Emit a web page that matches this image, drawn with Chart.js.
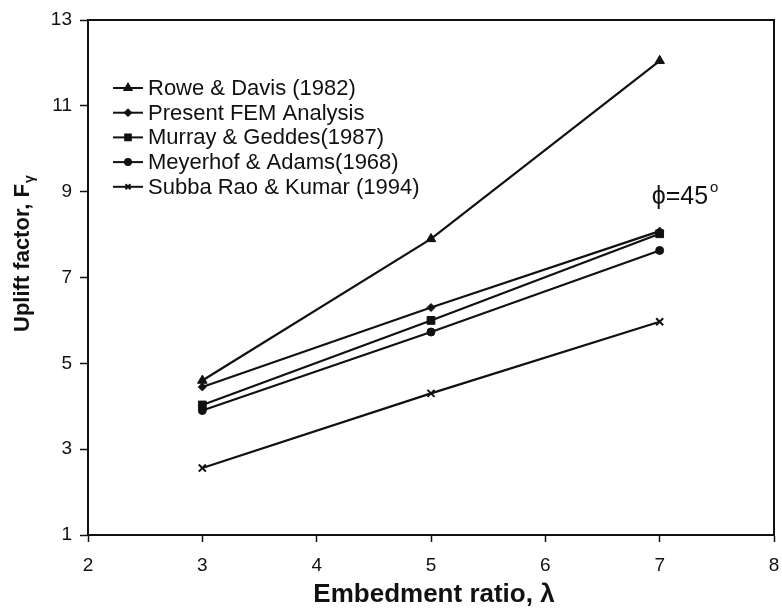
<!DOCTYPE html>
<html>
<head>
<meta charset="utf-8">
<title>Uplift factor vs embedment ratio</title>
<script src="https://cdn.jsdelivr.net/npm/chart.js@4/dist/chart.umd.min.js"></script>
<style>
  html, body { margin: 0; padding: 0; background: #fff; }
  #wrap { width: 782px; height: 610px; position: relative; }
</style>
</head>
<body>
<div id="wrap"><canvas id="upliftChart" width="782" height="610"></canvas></div>
<script>
const FONT = '"Liberation Sans", Arial, Helvetica, sans-serif';
const INK = '#111';

// embedment ratio (lambda) and uplift factor for each source
const embedRatio = [3, 5, 7];
const roweDavis = [4.6, 7.9, 12.05];
const presentFem = [4.45, 6.3, 8.08];
const murrayGeddes = [4.03, 6.0, 8.02];
const meyerhofAdams = [3.9, 5.73, 7.63];
const subbaRaoKumar = [2.56, 4.3, 5.97];

const seriesNames = [
    'Rowe & Davis (1982)',
    'Present FEM Analysis',
    'Murray & Geddes(1987)',
    'Meyerhof & Adams(1968)',
    'Subba Rao & Kumar (1994)'
];
const xTicks = [2, 3, 4, 5, 6, 7, 8];
const yTicks = [1, 3, 5, 7, 9, 11, 13];

const toPoints = (ys) => embedRatio.map((x, i) => ({ x: x, y: ys[i] }));

const mkSet = (label, ys, style, radius) => ({
    label: label,
    data: toPoints(ys),
    showLine: true,
    borderColor: INK,
    backgroundColor: INK,
    borderWidth: 2.2,
    pointStyle: style,
    pointRadius: radius,
    pointBorderWidth: style === 'crossRot' ? 2 : 1,
    pointBorderColor: INK,
    pointBackgroundColor: INK,
    tension: 0
});

// legend drawn inside the plot: short line + marker + name
const innerLegend = {
    id: 'innerLegend',
    afterDatasetsDraw(chart) {
        const ctx = chart.ctx;
        ctx.save();
        ctx.font = '22px ' + FONT;
        ctx.textBaseline = 'middle';
        ctx.fillStyle = INK;
        chart.data.datasets.forEach((ds, i) => {
            const y = 88 + i * 24.7;
            ctx.strokeStyle = INK;
            ctx.lineWidth = 2;
            ctx.beginPath();
            ctx.moveTo(113, y);
            ctx.lineTo(143, y);
            ctx.stroke();
            ctx.fillStyle = INK;
            Chart.helpers.drawPoint(ctx, {
                pointStyle: ds.pointStyle,
                radius: Math.max(ds.pointRadius - 1.5, 3),
                rotation: 0,
                borderWidth: ds.pointBorderWidth
            }, 128, y);
            ctx.fillStyle = INK;
            ctx.fillText(ds.label, 148, y + 1);
        });
        ctx.restore();
    }
};

// frame, axis titles and the friction angle note
const decorations = {
    id: 'decorations',
    afterDraw(chart) {
        const ctx = chart.ctx;
        const a = chart.chartArea;
        const xs = chart.scales.x, ys = chart.scales.y;
        ctx.save();
        ctx.strokeStyle = INK;
        ctx.lineWidth = 2;
        ctx.strokeRect(a.left, a.top, a.right - a.left, a.bottom - a.top);

        ctx.fillStyle = INK;
        ctx.font = 'bold 26px ' + FONT;
        ctx.textAlign = 'center';
        ctx.textBaseline = 'alphabetic';
        ctx.fillText('Embedment ratio, \u03bb', (a.left + a.right) / 2 + 3, 602);

        // rotated y title with subscript gamma
        ctx.translate(29, 0);
        ctx.rotate(-Math.PI / 2);
        const main = 'Uplift factor, F';
        ctx.font = 'bold 22px ' + FONT;
        const w1 = ctx.measureText(main).width;
        const start = -332;
        ctx.textAlign = 'left';
        ctx.fillText(main, start, 0);
        ctx.font = 'bold 14px ' + FONT;
        ctx.fillText('\u03b3', start + w1 + 1, 5);
        ctx.restore();

        ctx.save();
        ctx.fillStyle = INK;
        ctx.font = '25px ' + FONT;
        ctx.textAlign = 'left';
        ctx.textBaseline = 'alphabetic';
        const px = xs.getPixelForValue(6.93);
        const py = ys.getPixelForValue(8.72);
        const txt = '\u03d5=45';
        ctx.fillText(txt, px, py);
        const tw = ctx.measureText(txt).width;
        ctx.font = '15px ' + FONT;
        ctx.fillText('o', px + tw + 2, py - 12);
        ctx.restore();
    }
};

const tickFont = { family: FONT, size: 19 };

new Chart(document.getElementById('upliftChart'), {
    type: 'scatter',
    data: {
        datasets: [
            mkSet(seriesNames[0], roweDavis, 'triangle', 5.5),
            mkSet(seriesNames[1], presentFem, 'rectRot', 4),
            mkSet(seriesNames[2], murrayGeddes, 'rect', 5.5),
            mkSet(seriesNames[3], meyerhofAdams, 'circle', 4),
            mkSet(seriesNames[4], subbaRaoKumar, 'crossRot', 5)
        ]
    },
    options: {
        responsive: false,
        animation: false,
        devicePixelRatio: 1,
        layout: { padding: { top: 20, right: 8, left: 0, bottom: 0 } },
        plugins: {
            legend: { display: false },
            tooltip: { enabled: false }
        },
        scales: {
            x: {
                type: 'linear',
                min: 2, max: 8,
                afterBuildTicks: (s) => { s.ticks = xTicks.map(v => ({ value: v })); },
                afterFit: (s) => { s.height = 75; s.paddingLeft = 0; s.paddingRight = 0; },
                ticks: { color: INK, font: tickFont, padding: 12, maxRotation: 0 },
                grid: { drawOnChartArea: false, drawTicks: true, tickLength: 7, tickColor: INK, tickWidth: 1.5 },
                border: { color: INK, width: 2 }
            },
            y: {
                type: 'linear',
                min: 1, max: 13,
                afterBuildTicks: (s) => { s.ticks = yTicks.map(v => ({ value: v })); },
                afterFit: (s) => { s.width = 88; s.paddingTop = 0; s.paddingBottom = 0; },
                ticks: { color: INK, font: tickFont, padding: 8 },
                grid: { drawOnChartArea: false, drawTicks: true, tickLength: 8, tickColor: INK, tickWidth: 1.5 },
                border: { color: INK, width: 2 }
            }
        }
    },
    plugins: [innerLegend, decorations]
});
</script>
</body>
</html>
